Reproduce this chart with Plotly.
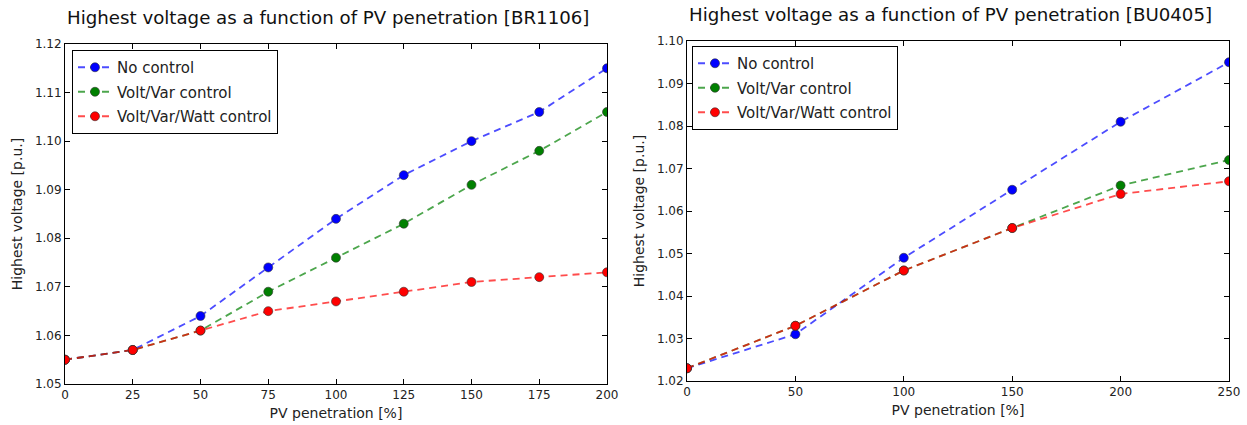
import plotly.graph_objects as go
from plotly.subplots import make_subplots

# BR1106 feeder
pv_br = [0, 25, 50, 75, 100, 125, 150, 175, 200]
br_no_control = [1.055, 1.057, 1.064, 1.074, 1.084, 1.093, 1.100, 1.106, 1.115]
br_volt_var = [1.055, 1.057, 1.061, 1.069, 1.076, 1.083, 1.091, 1.098, 1.106]
br_volt_var_watt = [1.055, 1.057, 1.061, 1.065, 1.067, 1.069, 1.071, 1.072, 1.073]

# BU0405 feeder
pv_bu = [0, 50, 100, 150, 200, 250]
bu_no_control = [1.023, 1.031, 1.049, 1.065, 1.081, 1.095]
bu_volt_var = [1.023, 1.033, 1.046, 1.056, 1.066, 1.072]
bu_volt_var_watt = [1.023, 1.033, 1.046, 1.056, 1.064, 1.067]

series_names = ["No control", "Volt/Var control", "Volt/Var/Watt control"]
titles = ["Highest voltage as a function of PV penetration [BR1106]",
          "Highest voltage as a function of PV penetration [BU0405]"]

line_colors = ["rgba(0,0,255,0.7)", "rgba(0,128,0,0.7)", "rgba(255,0,0,0.7)"]
marker_colors = ["#0000ff", "#008000", "#ff0000"]

W, H = 1247, 425
FONT = "DejaVu Sans"

fig = make_subplots(rows=1, cols=2)

panels = [
    (pv_br, [br_no_control, br_volt_var, br_volt_var_watt], "legend"),
    (pv_bu, [bu_no_control, bu_volt_var, bu_volt_var_watt], "legend2"),
]
for col, (xs, ys_list, leg) in enumerate(panels, start=1):
    for name, ys, lc, mc in zip(series_names, ys_list, line_colors, marker_colors):
        fig.add_trace(go.Scatter(
            x=xs, y=ys, name=name, mode="lines+markers",
            line=dict(color=lc, width=1.8, dash="7px,5px"),
            marker=dict(color=mc, size=9, line=dict(color="#333333", width=0.6)),
            legend=leg, legendgroup=f"{leg}-{name}",
        ), row=1, col=col)

def px_x(p):
    return p / W

def px_y(p):
    return 1 - p / H

left_dom = [px_x(65), px_x(607)]
right_dom = [px_x(687), px_x(1229)]

axis_common = dict(
    showgrid=False, zeroline=False, showline=True, linecolor="black", linewidth=1,
    mirror="ticks", ticks="inside", ticklen=5, tickcolor="black", automargin=False,
    tickfont=dict(family=FONT, size=12, color="#222222"),
)
title_font = dict(family=FONT, size=14, color="#222222")

fig.update_xaxes(**axis_common)
fig.update_yaxes(**axis_common)

fig.update_xaxes(domain=left_dom, range=[0, 200], tickvals=pv_br,
                 title=dict(text="PV penetration [%]", font=title_font, standoff=6),
                 row=1, col=1)
fig.update_xaxes(domain=right_dom, range=[0, 250], tickvals=pv_bu,
                 title=dict(text="PV penetration [%]", font=title_font, standoff=6),
                 row=1, col=2)
fig.update_yaxes(domain=[px_y(384), px_y(44)], range=[1.05, 1.12], dtick=0.01, tickformat=".2f",
                 title=dict(text="Highest voltage [p.u.]", font=title_font, standoff=8),
                 row=1, col=1)
fig.update_yaxes(domain=[px_y(381), px_y(41)], range=[1.02, 1.10], dtick=0.01, tickformat=".2f",
                 title=dict(text="Highest voltage [p.u.]", font=title_font, standoff=8),
                 row=1, col=2)

legend_style = dict(
    bgcolor="white", bordercolor="black", borderwidth=1,
    font=dict(family=FONT, size=15, color="#222222"),
    xanchor="left", yanchor="top", traceorder="grouped", tracegroupgap=2, itemwidth=34,
)
fig.update_layout(
    legend=dict(x=px_x(72), y=px_y(50), **legend_style),
    legend2=dict(x=px_x(692), y=px_y(46), **legend_style),
)

for dom, top, text in [(left_dom, 17, titles[0]), (right_dom, 14, titles[1])]:
    fig.add_annotation(
        x=(dom[0] + dom[1]) / 2 - px_x(8), y=px_y(top), xref="paper", yref="paper",
        text=text, showarrow=False, xanchor="center", yanchor="middle",
        font=dict(family=FONT, size=18.2, color="#111111"),
    )

fig.update_layout(
    width=W, height=H, margin=dict(l=0, r=0, t=0, b=0),
    plot_bgcolor="white", paper_bgcolor="white",
    font=dict(family=FONT),
)

fig.write_html("out.html")
